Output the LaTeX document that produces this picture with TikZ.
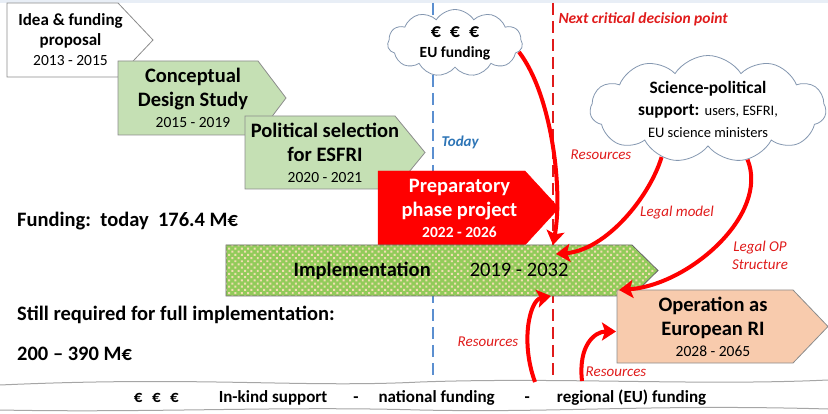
\documentclass[tikz,border=0pt]{standalone}
\usepackage{fontspec}
\setmainfont{Carlito}
\usetikzlibrary{shapes.symbols,patterns.meta,arrows.meta,calc}

\definecolor{cdsgreen}{HTML}{C5E0B4}
\definecolor{prepred}{HTML}{FF0000}
\definecolor{implgreen}{HTML}{92CB5A}
\definecolor{impldot}{HTML}{F3DDB2}
\definecolor{opsalmon}{HTML}{F8CBAD}
\definecolor{todayblue}{HTML}{2E75B6}
\definecolor{dashblue}{HTML}{5B8FD0}
\definecolor{critred}{HTML}{E01B1B}
\definecolor{cloudline}{HTML}{8497B0}
\definecolor{topstrip}{HTML}{E8EEF6}

\newcommand{\yrs}[1]{{\fontsize{15.5}{18}\selectfont\mdseries #1}}

\tikzset{
  stagebox/.style={inner sep=0pt, outer sep=0pt},
  stageline/.style={draw=black!45, line width=0.8pt},
  stagetext/.style={align=center, inner sep=0pt, font=\fontsize{20.5}{24}\selectfont\bfseries},
  cloudbox/.style={cloud, cloud puffs=11, cloud puff arc=115, cloud ignores aspect,
    draw=cloudline, line width=0.8pt, fill=white, align=center, inner sep=0pt},
  note/.style={text=critred, align=center, font=\fontsize{15}{18}\selectfont\itshape},
  fundtext/.style={anchor=base west, inner sep=0pt, font=\fontsize{20.5}{24}\selectfont\bfseries},
  feed/.style={prepred, line width=4pt, -{Stealth[length=14pt, width=18pt, inset=3pt]}}
}

\begin{document}
\begin{tikzpicture}[x=1pt, y=-1pt]
\useasboundingbox (0,0) rectangle (828,414);
\fill[topstrip] (0,0) rectangle (828,3);

% today and next decision point
\draw[dashblue, line width=1.5pt, dash pattern=on 12pt off 6pt] (433,3) -- (433,382);
\draw[critred, line width=1.8pt, dash pattern=on 12pt off 6pt] (553,3) -- (553,380);

% Idea & funding proposal
\node[stagebox, minimum width=111pt, minimum height=74pt] (idea) at (62.5,40) {};
\filldraw[stageline, fill=white] (idea.north west) -- (idea.north east) -- ++(35,37) -- (idea.south east) -- (idea.south west) -- cycle;
\node[stagetext, font=\fontsize{17}{20}\selectfont\bfseries] (ideatxt) at ([xshift=8pt]idea.center) {Idea \& funding\\proposal\\\yrs{2013 - 2015}};

% Conceptual design study
\node[stagebox, minimum width=140pt, minimum height=74pt] (cds) at (188,98) {};
\filldraw[stageline, fill=cdsgreen] (cds.north west) -- (cds.north east) -- ++(28,37) -- (cds.south east) -- (cds.south west) -- cycle;
\node[stagetext] (cdstxt) at ([xshift=5pt]cds.center) {Conceptual\\Design Study\\[-3pt]\yrs{2015 - 2019}};

% Political selection
\node[stagebox, minimum width=150pt, minimum height=73pt] (esfri) at (320,152.5) {};
\filldraw[stageline, fill=cdsgreen] (esfri.north west) -- (esfri.north east) -- ++(30,36.5) -- (esfri.south east) -- (esfri.south west) -- cycle;
\node[stagetext] (esfritxt) at ([xshift=5pt]esfri.center) {Political selection\\for ESFRI\\[-3pt]\yrs{2020 - 2021}};

% Preparatory phase
\node[stagebox, minimum width=147pt, minimum height=74pt] (prep) at (451.5,208) {};
\filldraw[draw=prepred, fill=prepred] (prep.north west) -- (prep.north east) -- ++(34,37) -- (prep.south east) -- (prep.south west) -- cycle;
\node[stagetext, text=white] (preptxt) at ([xshift=8pt]prep.center) {Preparatory\\phase project\\[-3pt]{\fontsize{15.5}{18}\selectfont 2022 - 2026}};

% Implementation
\node[stagebox, minimum width=406pt, minimum height=51pt] (impl) at (429,270.5) {};
\draw[stageline, draw=black!60, preaction={fill=implgreen}, pattern={Dots[distance=4.5pt, radius=1.4pt, angle=45]}, pattern color=impldot]
  (impl.north west) -- (impl.north east) -- ++(26,25.5) -- (impl.south east) -- (impl.south west) -- cycle;
\node[stagetext] (impltxt) at ([xshift=2pt]impl.center) {Implementation\hspace{39pt}\mdseries 2019 - 2032};

% Operation
\node[stagebox, minimum width=176pt, minimum height=73pt] (op) at (705,326.5) {};
\filldraw[stageline, fill=opsalmon] (op.north west) -- (op.north east) -- ++(35,36.5) -- (op.south east) -- (op.south west) -- cycle;
\node[stagetext] (optxt) at ([xshift=8pt]op.center) {Operation as\\European RI\\[-3pt]\yrs{2028 - 2065}};

% clouds
\node[cloudbox, minimum width=135pt, minimum height=67pt, font=\fontsize{15.5}{20}\selectfont\bfseries] (eufund) at (455,43)
  {{\fontsize{20}{20}\selectfont €\hspace{9pt}€\hspace{9pt}€}\\EU funding};
\node[cloudbox, minimum width=236pt, minimum height=84pt, font=\fontsize{17.4}{22}\selectfont\bfseries] (support) at (708,109)
  {Science-political\\support: {\fontsize{14.5}{22}\selectfont\mdseries users, ESFRI,}\\{\fontsize{14.5}{22}\selectfont\mdseries EU science ministers}};

% labels
\node[anchor=west, text=todayblue, font=\fontsize{15}{18}\selectfont\bfseries\itshape] (today) at (438,142) {Today};
\node[anchor=west, text=critred, font=\fontsize{15.5}{18}\selectfont\bfseries\itshape] (critical) at (555,19) {Next critical decision point};
\node[note] (reseu) at (601,155) {Resources};
\node[note] (legal) at (677,213) {Legal model};
\node[note] (legalop) at (760,255) {Legal OP\\Structure};
\node[note] (resnat) at (488,342) {Resources};
\node[note] (resreg) at (616,372) {Resources};

% funding
\node[fundtext] (funding) at (17,227) {Funding:\ \ today\ \ 176.4 M€};
\node[fundtext] (required) at (17,321) {Still required for full implementation:};
\node[fundtext] (amount) at (17,360) {200 – 390 M€};

% in-kind band
\fill[white] (0,385) .. controls (200,376) and (300,388) .. (420,382) .. controls (560,377) and (700,386) .. (828,380)
  -- (828,409) .. controls (650,404) and (560,413) .. (420,410) .. controls (280,406) and (150,413) .. (0,410) -- cycle;
\draw[black!35, line width=1pt] (0,385) .. controls (200,376) and (300,388) .. (420,382) .. controls (560,377) and (700,386) .. (828,380);
\draw[black!35, line width=1pt] (828,409) .. controls (650,404) and (560,413) .. (420,410) .. controls (280,406) and (150,413) .. (0,410);
\node[font=\fontsize{17}{20}\selectfont\bfseries] (inkind) at (420,398)
  {€\hspace{9.5pt}€\hspace{9.5pt}€\hspace{40pt}In-kind support\hspace{26pt}-\hspace{20pt}national funding\hspace{30pt}-\hspace{27pt}regional (EU) funding};
\coordinate (natsrc) at (535,382);
\coordinate (regsrc) at (582,381);

% resources and support
\draw[feed] (eufund.-8) .. controls +(33,43) and +(10,-55) .. ($(impl.north west)+(327,0)$);
\draw[feed] (support.226) .. controls +(-12,40) and +(50,-4) .. ($(impl.north west)+(330,9)$);
\draw[feed] (support.-52) .. controls +(22,55) and +(70,-5) .. ($(op.north west)+(2,0)$);
\draw[feed] (natsrc) .. controls +(-15,-41) and +(-21,4) .. ($(impl.south west)+(325,0)$);
\draw[feed] (regsrc) .. controls +(-4,-36) and +(-21,0) .. ($(op.west)+(-1,5)$);
\end{tikzpicture}
\end{document}
